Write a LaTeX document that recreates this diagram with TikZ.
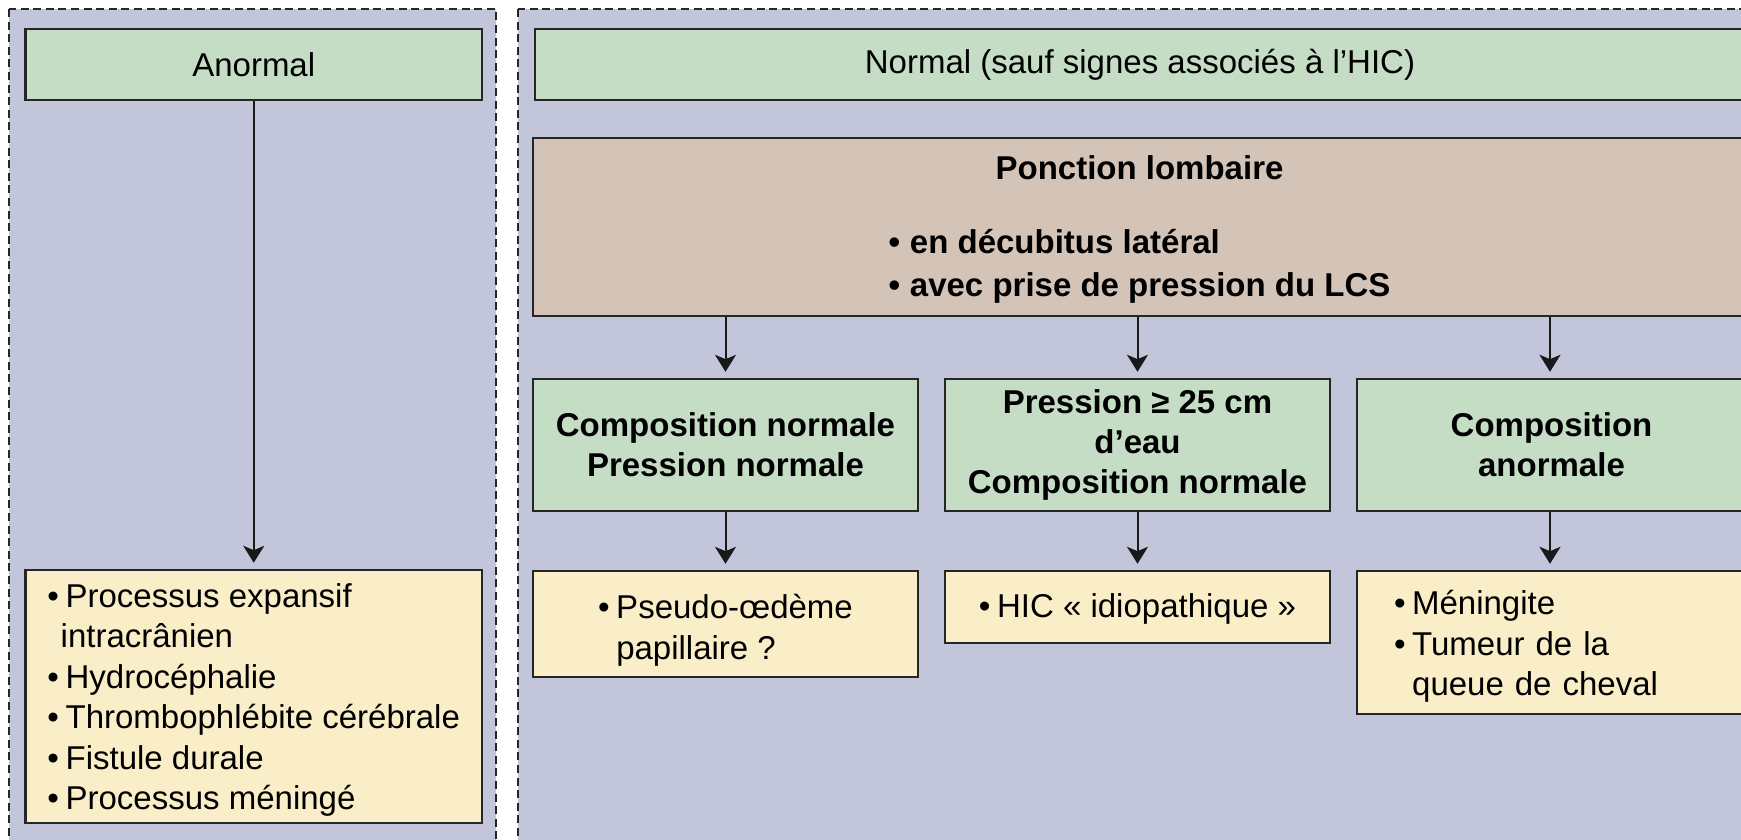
\documentclass[tikz,border=0pt]{standalone}
\usepackage{fontspec}
\setmainfont{Liberation Sans}
\usetikzlibrary{arrows.meta}
\definecolor{panelc}{HTML}{C3C6DA}
\definecolor{greenc}{HTML}{C4DDC4}
\definecolor{tanc}{HTML}{D4C4B8}
\definecolor{yellowc}{HTML}{FAEEC8}
\definecolor{bordc}{HTML}{262626}
\newcommand\bul{\makebox[0.55em][l]{•}}
\newcommand\bulp{\makebox[0.65em][l]{•}}
\newcommand\bulind{\hspace*{0.55em}}
\newcommand\lift[1]{\rule{0pt}{#1}}
\begin{document}
\begin{tikzpicture}[x=0.5pt,y=-0.5pt,
  panel/.style={draw=bordc, line width=0.75pt, dash pattern=on 4pt off 2.3pt, fill=panelc},
  box/.style={draw=bordc, line width=1.2pt, inner sep=0pt, anchor=center,
    font=\fontsize{16.5pt}{20.2pt}\selectfont},
  greenbox/.style={box, fill=greenc, align=center},
  boldbox/.style={greenbox, font=\fontsize{16.5pt}{20.2pt}\selectfont\bfseries},
  tanbox/.style={box, fill=tanc, align=center, font=\fontsize{16.5pt}{20.2pt}\selectfont\bfseries},
  yelbox/.style={box, fill=yellowc, align=left},
  arr/.style={draw=black!90, line width=1pt, -{Stealth[length=8.5pt,width=10.5pt,inset=2.2pt]}, shorten >=3pt}
]
\useasboundingbox (0,0) rectangle (1741,840);
\fill[white] (0,0) rectangle (1741,840);
\clip (0,0) rectangle (1741,840);

% panels
\draw[panel] (9,9) rectangle (496,880);
\draw[panel] (518,9) rectangle (1780,880);

% left column
\node[greenbox, minimum width=228.25pt, minimum height=35.5pt] (anormal) at (253.75,64.5) {Anormal};
\node[yelbox, minimum width=228.25pt, minimum height=126.5pt] (lst) at (253.75,696.5)
  {\lift{15.4pt}\bul Processus expansif\\
   \hspace*{0.4em}intracrânien\\
   \bul Hydrocéphalie\\
   \bul Thrombophlébite cérébrale\\
   \bul Fistule durale\\
   \bul Processus méningé};

% right column
\node[greenbox, minimum width=605pt, minimum height=35.5pt] (normal) at (1140,64.5) {Normal (sauf signes associés à l’HIC)};
\node[tanbox, minimum width=606.5pt, minimum height=89pt] (pl) at (1139.5,227)
  {\lift{17.1pt}Ponction lombaire\\[16.8pt]
   \begin{tabular}[t]{@{}l@{}}\bulp en décubitus latéral\\[1.3pt]
   \bulp avec prise de pression du LCS\end{tabular}};

\node[boldbox, minimum width=192.5pt, minimum height=66pt] (g1) at (725.5,445)
  {Composition normale\\Pression normale};
\node[boldbox, minimum width=192.5pt, minimum height=66pt] (g2) at (1137.5,445)
  {Pression ≥ 25 cm\\d’eau\\Composition normale};
\node[boldbox, minimum width=194.5pt, minimum height=66pt] (g3) at (1551.5,445)
  {Composition\\anormale};

\node[yelbox, minimum width=192.5pt, minimum height=53pt] (p1) at (725.5,624)
  {\lift{18.3pt}\bul Pseudo-œdème\\\bulind papillaire ?};
\node[yelbox, minimum width=192.5pt, minimum height=36pt] (p2) at (1137.5,607)
  {\lift{14.3pt}\bul HIC «~idiopathique~»};
\node[yelbox, text width=157.5pt, inner xsep=18.5pt, minimum height=71.5pt] (p3) at (1551.5,642.5)
  {\lift{16.1pt}\bul Méningite\\\bul Tumeur de la\\\bulind queue de cheval};

% connectors
\draw[arr] (anormal.south) -- (lst.north);
\draw[arr] (g1.north |- pl.south) -- (g1.north);
\draw[arr] (g2.north |- pl.south) -- (g2.north);
\draw[arr] ([xshift=-0.75pt]g3.north |- pl.south) -- ([xshift=-0.75pt]g3.north);
\draw[arr] (g1.south) -- (p1.north);
\draw[arr] (g2.south) -- (p2.north);
\draw[arr] ([xshift=-0.75pt]g3.south) -- ([xshift=-0.75pt]p3.north);
\end{tikzpicture}
\end{document}
